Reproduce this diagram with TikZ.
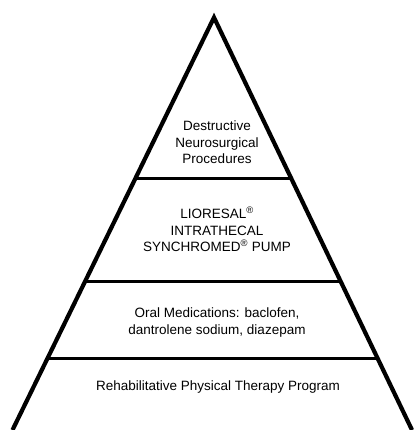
\documentclass[tikz,border=0pt]{standalone}
\usepackage{fontspec}
\setmainfont{Liberation Sans}
\usetikzlibrary{calc}
\usetikzlibrary{positioning}

\begin{document}
\begin{tikzpicture}[x=1pt, y=-1pt,
        side/.style={line width=4.2pt, line join=miter},
        tier/.style={line width=3.4pt},
        level/.style={align=center, inner sep=0pt, font=\fontsize{13.5}{16.5}\selectfont},
    ]
    \useasboundingbox (0,0) rectangle (419,430);
    \coordinate (apex) at (214,17.5);
    \coordinate (left) at (12.5,430);
    \coordinate (right) at (412,430);
    \draw[side] (left) -- (apex) -- (right);
    \coordinate (t1l) at ($(apex)!0.391!(left)$);
    \coordinate (t1r) at ($(apex)!0.391!(right)$);
    \coordinate (t2l) at ($(apex)!0.640!(left)$);
    \coordinate (t2r) at ($(apex)!0.640!(right)$);
    \coordinate (t3l) at ($(apex)!0.826!(left)$);
    \coordinate (t3r) at ($(apex)!0.826!(right)$);
    \draw[tier] (t1l) -- (t1r);
    \draw[tier] (t2l) -- (t2r);
    \draw[tier] (t3l) -- (t3r);
    \node[level] (destr) at (217,142.5) {Destructive\\Neurosurgical\\Procedures};
    \node[level] (pump) at (217,229.5) {LIORESAL\textsuperscript{®}\\INTRATHECAL\\SYNCHROMED\textsuperscript{®} PUMP};
    \node[level] (oral) at (217,322.5) {Oral Medications: baclofen,\\dantrolene sodium, diazepam};
    \node[level] (rehab) at (218,387) {Rehabilitative Physical Therapy Program};
\end{tikzpicture}
\end{document}
